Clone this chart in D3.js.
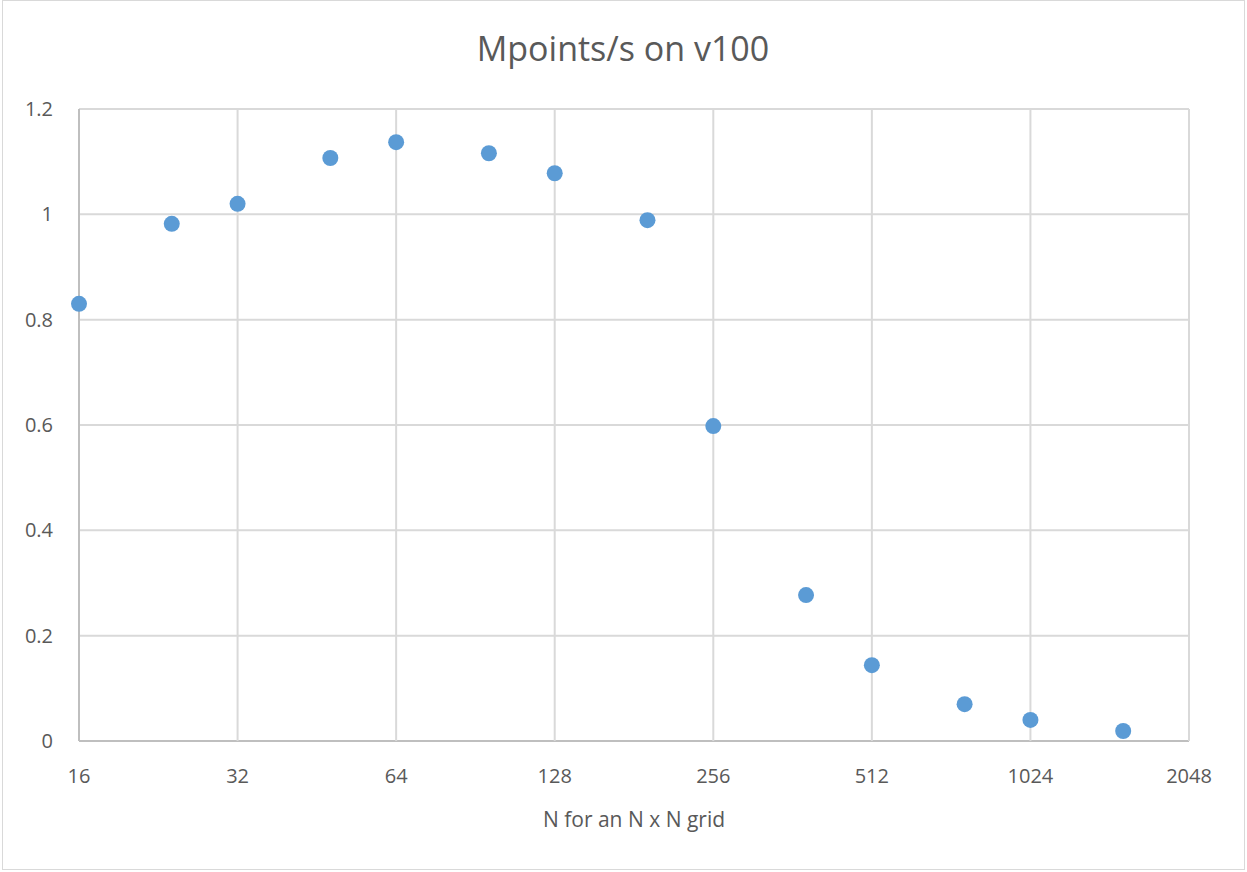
<!DOCTYPE html>
<html>
<head>
<meta charset="utf-8">
<script src="https://cdn.jsdelivr.net/npm/d3@7"></script>
<style>
  body { margin: 0; background: #fff; }
  svg text { font-family: "Open Sans", "Noto Sans", sans-serif; fill: #595959; }
</style>
</head>
<body>
<svg id="canvas"></svg>
<script>
// grid size N and throughput in Mpoints/s
let gridN = [16, 24, 32, 48, 64, 96, 128, 192, 256, 384, 512, 768, 1024, 1536]
let mpoints = [0.830, 0.982, 1.020, 1.107, 1.137, 1.116, 1.078, 0.989, 0.598, 0.277, 0.144, 0.070, 0.040, 0.019]
let xTicks = [16, 32, 64, 128, 256, 512, 1024, 2048]
let yTicks = [0, 0.2, 0.4, 0.6, 0.8, 1, 1.2]

let width = 1247
let height = 872
let plotLeft = 79, plotRight = 1189, plotTop = 109, plotBottom = 741

let svg = d3.select('#canvas')
            .attr('width', width)
            .attr('height', height)

// chart frame
svg.append('rect')
   .attr('x', 2.5).attr('y', 0.5)
   .attr('width', width - 5).attr('height', height - 3)
   .attr('fill', '#fff')
   .attr('stroke', '#d9d9d9')

let xScale = d3.scaleLog().base(2)
               .domain([16, 2048])
               .range([plotLeft, plotRight])

let yScale = d3.scaleLinear()
               .domain([0, 1.2])
               .range([plotBottom, plotTop])

// gridlines
svg.append('g')
   .selectAll('line')
   .data(yTicks)
   .enter()
   .append('line')
   .attr('x1', plotLeft).attr('x2', plotRight)
   .attr('y1', (d) => yScale(d)).attr('y2', (d) => yScale(d))
   .attr('stroke', (d) => d === 0 ? '#bfbfbf' : '#d9d9d9')
   .attr('stroke-width', 2)

svg.append('g')
   .selectAll('line')
   .data(xTicks)
   .enter()
   .append('line')
   .attr('x1', (d) => xScale(d)).attr('x2', (d) => xScale(d))
   .attr('y1', plotTop).attr('y2', plotBottom)
   .attr('stroke', (d) => d === 16 ? '#bfbfbf' : '#d9d9d9')
   .attr('stroke-width', 2)

// tick labels
svg.append('g')
   .selectAll('text')
   .data(yTicks)
   .enter()
   .append('text')
   .attr('x', 53)
   .attr('y', (d) => yScale(d))
   .attr('dy', '0.35em')
   .attr('text-anchor', 'end')
   .style('font-size', '20px')
   .text((d) => d)

svg.append('g')
   .selectAll('text')
   .data(xTicks)
   .enter()
   .append('text')
   .attr('x', (d) => xScale(d))
   .attr('y', 776)
   .attr('dy', '0.35em')
   .attr('text-anchor', 'middle')
   .style('font-size', '20px')
   .text((d) => d)

// points
svg.append('g')
   .selectAll('circle')
   .data(gridN)
   .enter()
   .append('circle')
   .attr('cx', (d) => xScale(d))
   .attr('cy', (d, i) => yScale(mpoints[i]))
   .attr('r', 8)
   .attr('fill', '#5b9bd5')

// titles
svg.append('text')
   .attr('x', 623)
   .attr('y', 49)
   .attr('dy', '0.35em')
   .attr('text-anchor', 'middle')
   .style('font-size', '34px')
   .text('Mpoints/s on v100')

svg.append('text')
   .attr('x', 634)
   .attr('y', 820)
   .attr('dy', '0.35em')
   .attr('text-anchor', 'middle')
   .style('font-size', '21px')
   .text('N for an N x N grid')
</script>
</body>
</html>
